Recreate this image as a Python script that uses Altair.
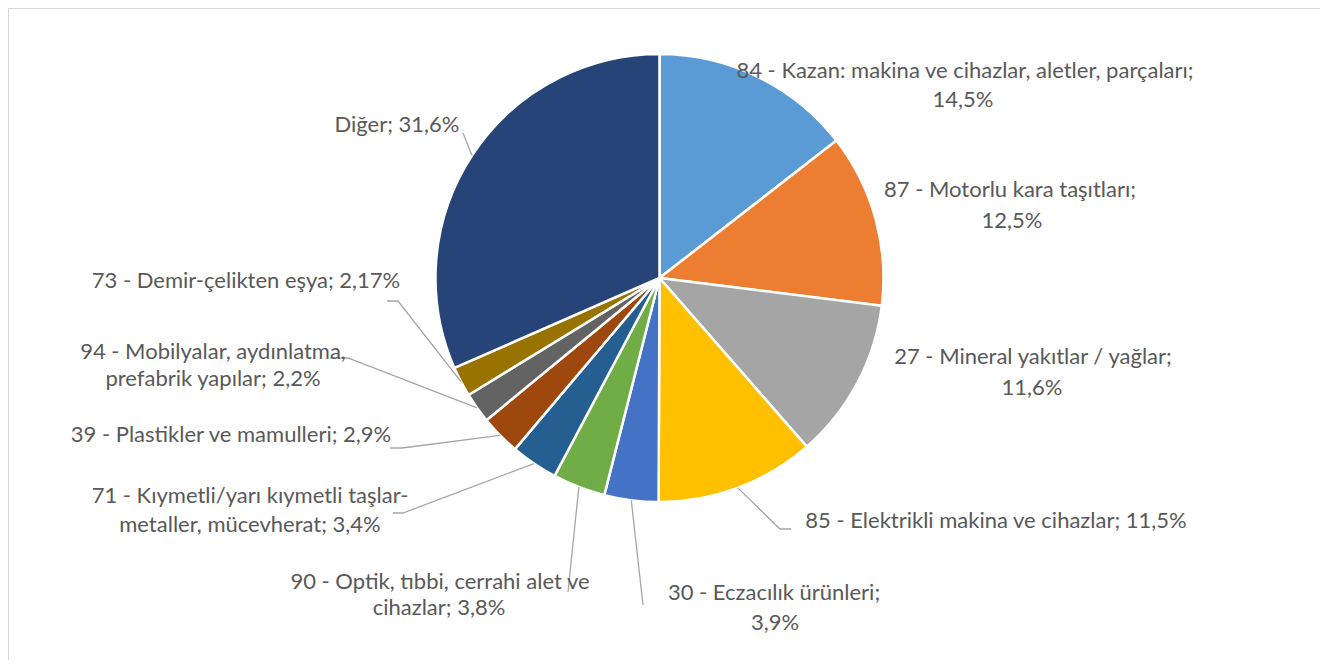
import math
import altair as alt
import pandas as pd

# ---------------- data ----------------
codes = ["84", "87", "27", "85", "30", "90", "71", "39", "94", "73", ""]
names = [
    "Kazan: makina ve cihazlar, aletler, parçaları",
    "Motorlu kara taşıtları",
    "Mineral yakıtlar / yağlar",
    "Elektrikli makina ve cihazlar",
    "Eczacılık ürünleri",
    "Optik, tıbbi, cerrahi alet ve cihazlar",
    "Kıymetli/yarı kıymetli taşlar-metaller, mücevherat",
    "Plastikler ve mamulleri",
    "Mobilyalar, aydınlatma, prefabrik yapılar",
    "Demir-çelikten eşya",
    "Diğer",
]
shares = [14.5, 12.5, 11.6, 11.5, 3.9, 3.8, 3.4, 2.9, 2.2, 2.17, 31.6]
colors = ["#5B9BD5", "#ED7D31", "#A5A5A5", "#FFC000", "#4472C4", "#70AD47",
          "#255E91", "#9E480E", "#636363", "#997300", "#264478"]

# ---------------- layout (page pixel coordinates) ----------------
W, H = 1312, 652
CX, CY, R = 659.5, 278.0, 224.0
# break token: line 1 ends after this substring (None = single line)
breaks = [";", ";", ";", None, ";", "alet ve", "taşlar-", None, "aydınlatma,", None, None]
line_pos = [
    [(965, 71), (963, 100)],
    [(1010, 190), (1012, 221)],
    [(1033, 357), (1032, 388)],
    [(996, 521)],
    [(774, 593), (775, 623)],
    [(440, 582), (439, 608)],
    [(250, 496), (250, 525)],
    [(231, 435)],
    [(213, 352), (213, 379)],
    [(246, 281)],
    [(397, 125)],
]
leader_pts = [
    [], [], [],
    [(780, 529), (791, 529)],
    [(643, 605)],
    [(568, 592)],
    [(403, 513), (393, 513)],
    [(402, 448), (390, 448)],
    [(348, 358), (330, 358)],
    [(398, 301), (387, 301)],
    [(463, 133)],
]

FONT = "Lato"
FS = 22
TXT = "#595959"

# ---------------- build tables ----------------
def pct_text(v):
    return f"{v}".replace(".", ",") + "%"

labels = []
for c, n, v in zip(codes, names, shares):
    labels.append((f"{c} - {n}" if c else n) + "; " + pct_text(v))

pie_df = pd.DataFrame({
    "cat": labels,
    "share": shares,
    "order": list(range(len(shares))),
})

text_rows = []
for lab, br, pos in zip(labels, breaks, line_pos):
    if br is None:
        lines = [lab]
    else:
        i = lab.index(br) + len(br)
        lines = [lab[:i].strip(), lab[i:].strip()]
    for ln, (x, y) in zip(lines, pos):
        text_rows.append({"t": ln, "x": x, "y": y})
text_df = pd.DataFrame(text_rows)

total = sum(shares)
cum = 0.0
line_rows = []
for k, (v, pts) in enumerate(zip(shares, leader_pts)):
    mid = (cum + v / 2) / total * 2 * math.pi
    cum += v
    if not pts:
        continue
    sx = CX + R * math.sin(mid)
    sy = CY - R * math.cos(mid)
    seq = [(sx, sy)] + pts
    for j, (x, y) in enumerate(seq):
        line_rows.append({"id": k, "seq": j, "x": x, "y": y})
line_df = pd.DataFrame(line_rows)

xs = alt.Scale(domain=[8, 8 + W], nice=False, zero=False)
ys = alt.Scale(domain=[8, 8 + H], nice=False, zero=False, reverse=True)

pie = alt.Chart(pie_df).mark_arc(
    radius=R, stroke="white", strokeWidth=2.5
).encode(
    theta=alt.Theta("share:Q", stack=True),
    order=alt.Order("order:Q"),
    color=alt.Color("cat:N", scale=alt.Scale(domain=labels, range=colors), legend=None),
    x=alt.value(CX - 8),
    y=alt.value(CY - 8),
)

leaders = alt.Chart(line_df).mark_line(color="#A6A6A6", strokeWidth=1.3).encode(
    x=alt.X("x:Q", scale=xs, axis=None),
    y=alt.Y("y:Q", scale=ys, axis=None),
    detail="id:N",
    order="seq:Q",
)

texts = alt.Chart(text_df).mark_text(
    font=FONT, fontSize=FS, color=TXT, align="center", baseline="middle"
).encode(
    x=alt.X("x:Q", scale=xs, axis=None),
    y=alt.Y("y:Q", scale=ys, axis=None),
    text="t:N",
)

chart = alt.layer(pie, leaders, texts).properties(
    width=W, height=H, padding=0, background="white"
).configure_view(stroke="#D9D9D9", strokeWidth=1)

chart.save("out.html", embed_options={"renderer": "svg", "actions": False})
